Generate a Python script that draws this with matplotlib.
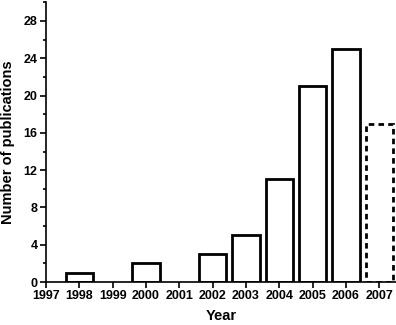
import matplotlib.pyplot as plt
from matplotlib.ticker import MultipleLocator

plt.rcParams['font.family'] = ['Liberation Sans', 'DejaVu Sans']
plt.rcParams['font.weight'] = 'bold'

years = [1998, 1999, 2000, 2001, 2002, 2003, 2004, 2005, 2006, 2007]
counts = [1, 0, 2, 0, 3, 5, 11, 21, 25, 17]
styles = ['solid'] * 9 + [(0, (2, 1.5))]

fig = plt.figure(figsize=(3.96, 3.25), dpi=100)
ax = fig.add_axes([0.116, 0.132, 0.884, 0.861])

for y, c, s in zip(years, counts, styles):
    if c == 0:
        continue
    ax.bar(y, c, width=0.82, facecolor='white', edgecolor='black',
           linewidth=2, linestyle=s, zorder=2)

ax.set_xlim(1997, 2007.5)
ax.set_ylim(0, 30)
ax.set_xticks(range(1997, 2008))
ax.yaxis.set_major_locator(MultipleLocator(4))
ax.yaxis.set_minor_locator(MultipleLocator(2))
ax.tick_params(axis='both', which='major', length=4, width=1.2, labelsize=9, pad=2)
ax.tick_params(axis='y', which='minor', length=2.5, width=1.2)
for lab in ax.get_xticklabels() + ax.get_yticklabels():
    lab.set_fontweight('bold')

ax.spines['top'].set_visible(False)
ax.spines['right'].set_visible(False)
ax.spines['left'].set_linewidth(1.2)
ax.spines['bottom'].set_linewidth(1.2)

ax.set_xlabel('Year', fontsize=10.5, fontweight='bold', labelpad=5)
ax.set_ylabel('Number of publications', fontsize=10.5, fontweight='bold', labelpad=6)

fig.savefig('out.png', dpi=100)
